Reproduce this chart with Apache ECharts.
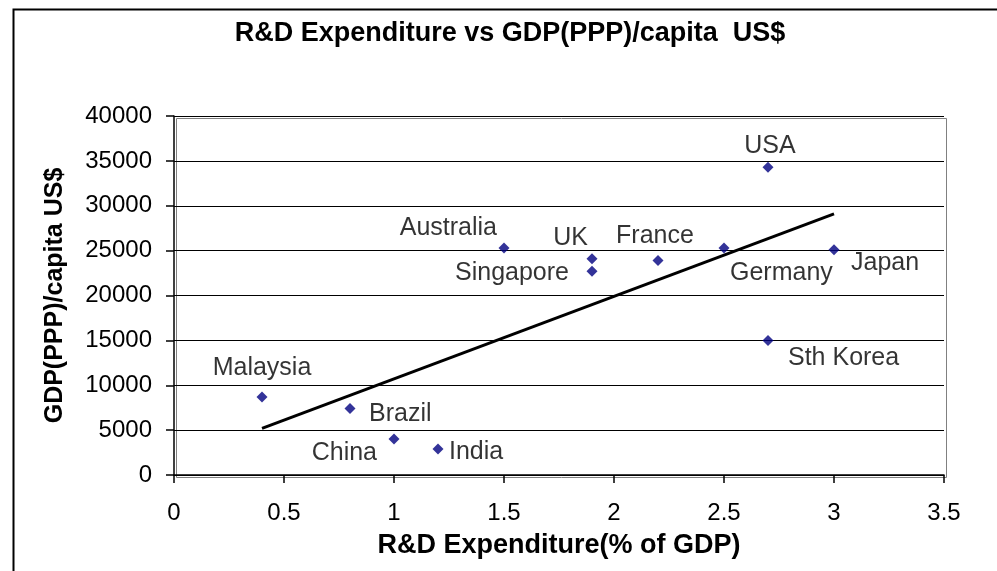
<!DOCTYPE html>
<html>
<head>
<meta charset="utf-8">
<script src="https://cdn.jsdelivr.net/npm/echarts@6/dist/echarts.min.js"></script>
<style>html,body{margin:0;padding:0;background:#fff}#c{width:997px;height:571px}</style>
</head>
<body>
<div id="c"></div>
<script>
// ---- data ----
const countries = ['Malaysia','Brazil','China','India','Australia','UK','Singapore','France','Germany','USA','Japan','Sth Korea'];
const rdExpenditure = [0.4, 0.8, 1.0, 1.2, 1.5, 1.9, 1.9, 2.2, 2.5, 2.7, 3.0, 2.7];
const gdpPerCapita = [8700, 7400, 4000, 2900, 25300, 24100, 22700, 23900, 25300, 34300, 25100, 15000];
const trendX = [0.4, 3.0];
const trendY = [5200, 29100];
const xTicks = [0, 0.5, 1, 1.5, 2, 2.5, 3, 3.5];
const yTicks = [0, 5000, 10000, 15000, 20000, 25000, 30000, 35000, 40000];

// ---- label placement (style, not data) ----
const labelPlace = {
  'Malaysia': ['center', 0, -29],
  'Brazil': ['left', 19, 6],
  'China': ['right', -17, 14],
  'India': ['left', 11, 3],
  'Australia': ['right', -7, -20],
  'UK': ['right', -4, -21],
  'Singapore': ['right', -23, 2],
  'France': ['center', -3, -24],
  'Germany': ['left', 6, 25],
  'USA': ['center', 2, -21],
  'Japan': ['left', 17, 13],
  'Sth Korea': ['left', 20, 18]
};

const FONT = 'Arial, "Liberation Sans", sans-serif';
const chart = echarts.init(document.getElementById('c'), null, {renderer: 'canvas'});

const points = countries.map((n, i) => {
  const p = labelPlace[n];
  return {
    name: n,
    value: [rdExpenditure[i], gdpPerCapita[i]],
    label: {
      show: true, position: 'inside', formatter: n,
      align: p[0], verticalAlign: 'middle', offset: [p[1], p[2]],
      color: '#000', fontSize: 25, fontFamily: FONT,
      textBorderWidth: 0, textShadowBlur: 0
    }
  };
});

chart.setOption({
  animation: false,
  backgroundColor: '#fff',
  title: {
    text: 'R&D Expenditure vs GDP(PPP)/capita  US$',
    left: 505, top: 15, textAlign: 'center',
    textStyle: {fontSize: 27, fontWeight: 'bold', color: '#000', fontFamily: FONT}
  },
  graphic: [{
    type: 'rect', left: 11, top: 7, silent: true,
    shape: {width: 1000, height: 600},
    style: {fill: 'none', stroke: '#000', lineWidth: 2}
  }, {
    type: 'rect', left: 174, top: 116, silent: true, z: 0,
    shape: {width: 770, height: 359},
    style: {fill: 'none', stroke: '#808080', lineWidth: 1}
  }],
  grid: {left: 174, top: 116, right: 53, bottom: 96, containLabel: false},
  xAxis: {
    type: 'value', min: xTicks[0], max: xTicks[xTicks.length - 1], interval: 0.5,
    name: 'R&D Expenditure(% of GDP)', nameLocation: 'middle', nameGap: 57,
    nameTextStyle: {fontSize: 27, fontWeight: 'bold', color: '#000', fontFamily: FONT},
    axisLine: {show: true, onZero: false, lineStyle: {color: '#000', width: 1.5}},
    axisTick: {show: true, length: 8, inside: false, lineStyle: {color: '#000', width: 1.5}},
    axisLabel: {fontSize: 24, color: '#000', margin: 26, fontFamily: FONT, formatter: v => String(v)},
    splitLine: {show: false}
  },
  yAxis: {
    type: 'value', min: yTicks[0], max: yTicks[yTicks.length - 1], interval: 5000,
    name: 'GDP(PPP)/capita US$', nameLocation: 'middle', nameGap: 106,
    nameTextStyle: {fontSize: 25, fontWeight: 'bold', color: '#000', fontFamily: FONT},
    axisLine: {show: true, onZero: false, lineStyle: {color: '#000', width: 1.5}},
    axisTick: {show: true, length: 8, inside: false, lineStyle: {color: '#000', width: 1.5}},
    axisLabel: {fontSize: 24, color: '#000', margin: 22, fontFamily: FONT, formatter: v => String(v)},
    splitLine: {show: true, lineStyle: {color: '#000', width: 1.2}}
  },
  series: [{
    type: 'line', data: trendX.map((x, i) => [x, trendY[i]]),
    showSymbol: false, symbol: 'none', silent: true,
    lineStyle: {color: '#000', width: 3}, z: 3
  }, {
    type: 'scatter', data: points, symbol: 'diamond', symbolSize: 11,
    itemStyle: {color: '#000080'}, z: 4
  }]
});
</script>
</body>
</html>
